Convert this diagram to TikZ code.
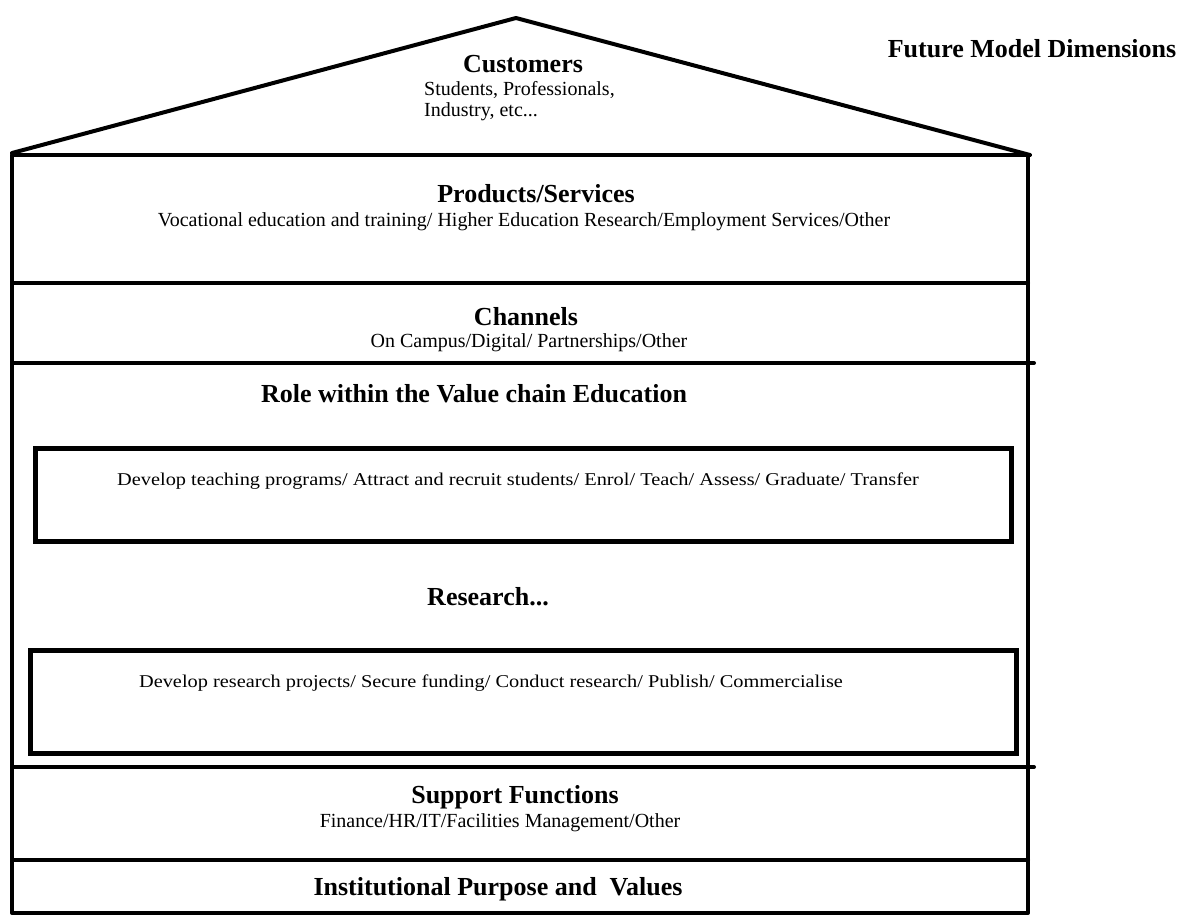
\documentclass[tikz,border=0pt]{standalone}
\usepackage{fontspec}
\setmainfont{Liberation Serif}
\begin{document}
\begin{tikzpicture}[x=1pt,y=-1pt,
  heading/.style={font=\fontsize{26}{30}\selectfont\bfseries, inner sep=0pt, anchor=base},
  sub/.style={font=\fontsize{20}{24}\selectfont, inner sep=0pt, anchor=base},
  small/.style={font=\fontsize{18}{22}\selectfont, inner sep=0pt, anchor=base},
  wall/.style={line width=4pt, line cap=round, line join=round},
  inner/.style={line width=5pt}]
\useasboundingbox (0,0) rectangle (1186,916);
% roof
\coordinate (eaveL) at (12,153);
\coordinate (apex) at (516,18);
\coordinate (eaveR) at (1030,155);
\draw[wall] (eaveL) -- (apex) -- (eaveR);
% outer walls and floors
\coordinate (tl) at (12,155);
\coordinate (tr) at (1028,155);
\coordinate (bl) at (12,913);
\coordinate (br) at (1028,913);
\draw[wall] (tl) -- (tr) -- (br) -- (bl) -- cycle;
\coordinate (f1l) at (12,283); \coordinate (f1r) at (1028,283);
\coordinate (f2l) at (12,363); \coordinate (f2r) at (1034,363);
\coordinate (f3l) at (12,767); \coordinate (f3r) at (1034,767);
\coordinate (f4l) at (12,860); \coordinate (f4r) at (1028,860);
\draw[wall] (f1l) -- (f1r);
\draw[wall] (f2l) -- (f2r);
\draw[wall] (f3l) -- (f3r);
\draw[wall] (f4l) -- (f4r);
% inner boxes
\draw[inner] (35,448) rectangle (1011,541);
\draw[inner] (30,650) rectangle (1016,753);
% texts
\node[heading] (cust) at (523,72) {Customers};
\node[sub, anchor=base west] (custa) at (424,95) {Students, Professionals,};
\node[sub, anchor=base west] (custb) at (424,116) {Industry, etc...};
\node[heading] (fmd) at (1032,57) {Future Model Dimensions};
\node[heading] (prod) at (536,202) {Products/Services};
\node[sub] (proda) at (524,226) {Vocational education and training/ Higher Education Research/Employment Services/Other};
\node[heading] (chan) at (526,325) {Channels};
\node[sub] (chana) at (529,347) {On Campus/Digital/ Partnerships/Other};
\node[heading] (role) at (474,402) {Role within the Value chain Education};
\node[small] (teach) at (518,485) {\scalebox{1.13}[1]{Develop teaching programs/ Attract and recruit students/ Enrol/ Teach/ Assess/ Graduate/ Transfer}};
\node[heading] (res) at (488,605) {Research...};
\node[small] (resa) at (491,687) {\scalebox{1.13}[1]{Develop research projects/ Secure funding/ Conduct research/ Publish/ Commercialise}};
\node[heading] (supp) at (515,803) {Support Functions};
\node[sub] (suppa) at (500,827) {Finance/HR/IT/Facilities Management/Other};
\node[heading] (inst) at (498,895) {Institutional Purpose and\ \ Values};
\end{tikzpicture}
\end{document}
